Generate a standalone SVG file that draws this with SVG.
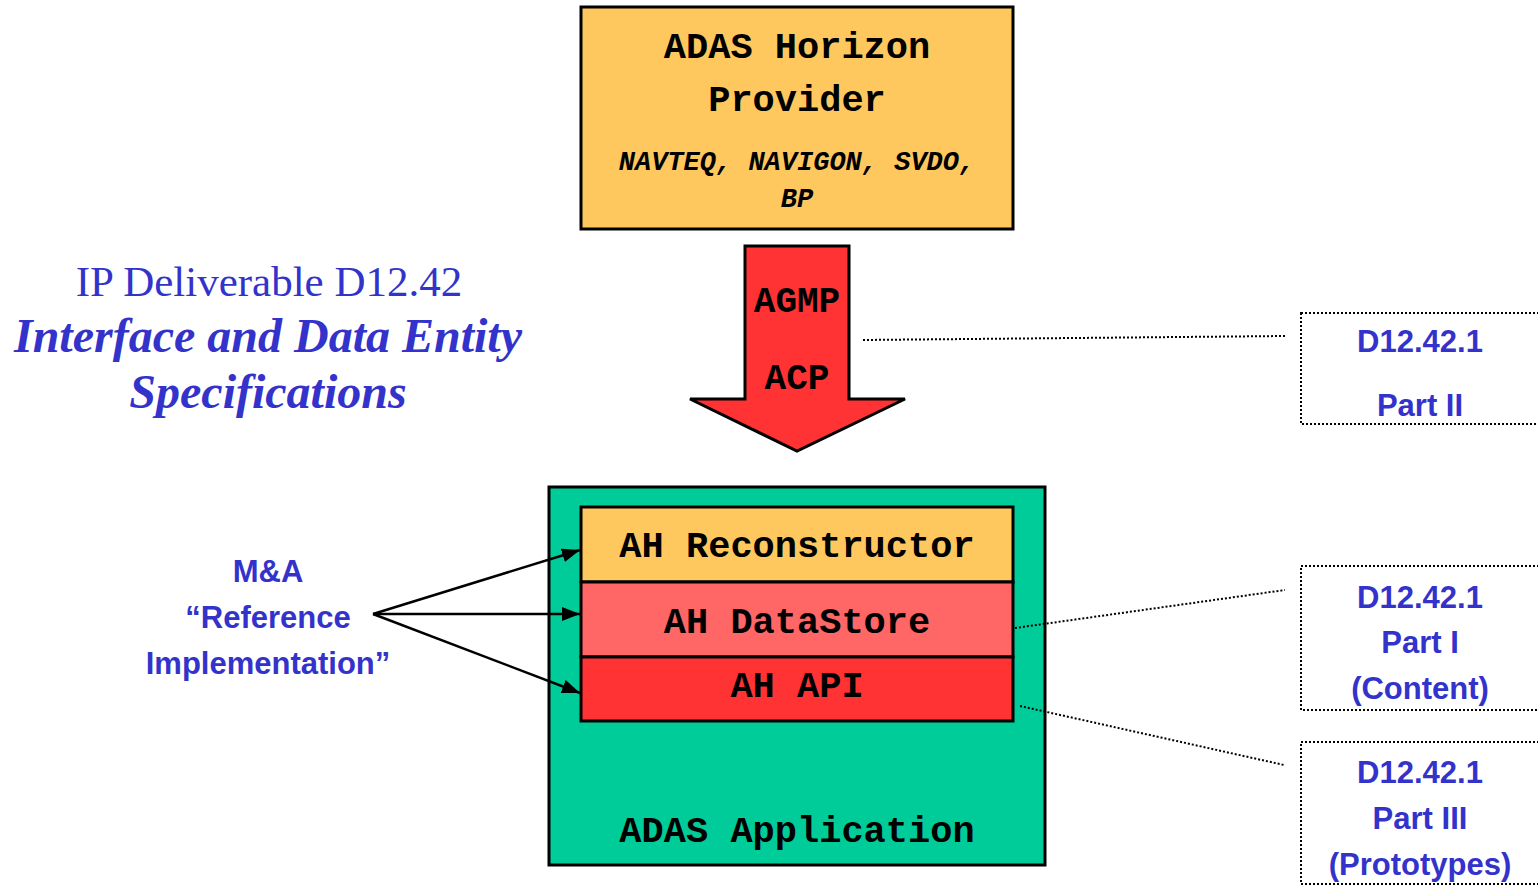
<svg xmlns="http://www.w3.org/2000/svg" width="1538" height="886" viewBox="0 0 1538 886">
  <style>
    .box { stroke: #000; stroke-width: 3; }
    .mono { font-family: "Liberation Mono", "Courier New", monospace; font-weight: bold; fill: #000; text-anchor: middle; }
    .blue { font-family: "Liberation Sans", Arial, sans-serif; font-weight: bold; fill: #3333CC; text-anchor: middle; font-size: 31px; }
    .serif { font-family: "Liberation Serif", "Times New Roman", serif; fill: #3333CC; text-anchor: middle; }
    .dotted { fill: none; stroke: #000; stroke-width: 2; stroke-dasharray: 2 2; }
    .conn { stroke: #000; stroke-width: 2.5; fill: none; }
  </style>
  <defs>
    <marker id="arrowhead" viewBox="0 0 10 10" refX="10" refY="5" markerWidth="18" markerHeight="14" markerUnits="userSpaceOnUse" orient="auto" preserveAspectRatio="none">
      <path d="M0,0 L10,5 L0,10 z" fill="#000"/>
    </marker>
  </defs>
  <rect width="1538" height="886" fill="#fff"/>

  <!-- Title -->
  <g id="title">
    <text class="serif" x="269" y="296" font-size="43">IP Deliverable D12.42</text>
    <text class="serif" x="268" y="352" font-size="48" font-weight="bold" font-style="italic">Interface and Data Entity</text>
    <text class="serif" x="268" y="408" font-size="48" font-weight="bold" font-style="italic">Specifications</text>
  </g>

  <!-- Provider -->
  <g id="provider">
    <rect class="box" x="581" y="7" width="432" height="222" fill="#FFC85F"/>
    <text class="mono" x="797" y="58" font-size="37">ADAS Horizon</text>
    <text class="mono" x="797" y="111" font-size="37">Provider</text>
    <text class="mono" x="797" y="170" font-size="27" font-style="italic">NAVTEQ, NAVIGON, SVDO,</text>
    <text class="mono" x="797" y="207" font-size="27" font-style="italic">BP</text>
  </g>

  <!-- Protocol arrow -->
  <g id="protocol-arrow">
    <path class="box" d="M745,246 L849,246 L849,399 L905,399 L797,451 L690,399 L745,399 Z" fill="#FF3333"/>
    <text class="mono" x="797" y="312" font-size="36">AGMP</text>
    <text class="mono" x="797" y="389" font-size="36">ACP</text>
  </g>

  <!-- Application stack -->
  <g id="application">
    <rect class="box" x="549" y="487" width="496" height="378" fill="#00CC99"/>
    <text class="mono" x="797" y="842" font-size="37">ADAS Application</text>
  </g>
  <g id="reconstructor">
    <rect class="box" x="581" y="507" width="432" height="75" fill="#FFC85F"/>
    <text class="mono" x="797" y="557" font-size="37">AH Reconstructor</text>
  </g>
  <g id="datastore">
    <rect class="box" x="581" y="582" width="432" height="75" fill="#FF6666"/>
    <text class="mono" x="797" y="633" font-size="37">AH DataStore</text>
  </g>
  <g id="api">
    <rect class="box" x="581" y="657" width="432" height="64" fill="#FF3333"/>
    <text class="mono" x="797" y="697" font-size="37">AH API</text>
  </g>

  <!-- Reference implementation label -->
  <g id="reference">
    <text class="blue" x="268" y="582" font-size="32">M&amp;A</text>
    <text class="blue" x="268" y="628" font-size="32">“Reference</text>
    <text class="blue" x="268" y="674" font-size="32">Implementation”</text>
  </g>

  <!-- Deliverable parts -->
  <g id="part2">
    <rect class="dotted" x="1301" y="313" width="250" height="111"/>
    <text class="blue" x="1420" y="352">D12.42.1</text>
    <text class="blue" x="1420" y="416">Part II</text>
  </g>
  <g id="part1">
    <rect class="dotted" x="1301" y="566" width="250" height="144"/>
    <text class="blue" x="1420" y="608">D12.42.1</text>
    <text class="blue" x="1420" y="653">Part I</text>
    <text class="blue" x="1420" y="699">(Content)</text>
  </g>
  <g id="part3">
    <rect class="dotted" x="1301" y="742" width="250" height="142"/>
    <text class="blue" x="1420" y="783">D12.42.1</text>
    <text class="blue" x="1420" y="829">Part III</text>
    <text class="blue" x="1420" y="875">(Prototypes)</text>
  </g>

  <!-- Connectors -->
  <g id="connectors">
    <line class="conn" x1="373" y1="614" x2="580" y2="550" marker-end="url(#arrowhead)"/>
    <line class="conn" x1="373" y1="614" x2="580" y2="614" marker-end="url(#arrowhead)"/>
    <line class="conn" x1="373" y1="614" x2="580" y2="693" marker-end="url(#arrowhead)"/>
    <line class="dotted" x1="863" y1="340" x2="1285" y2="336"/>
    <line class="dotted" x1="1015" y1="628" x2="1285" y2="590"/>
    <line class="dotted" x1="1020" y1="706" x2="1284" y2="765"/>
  </g>
</svg>
